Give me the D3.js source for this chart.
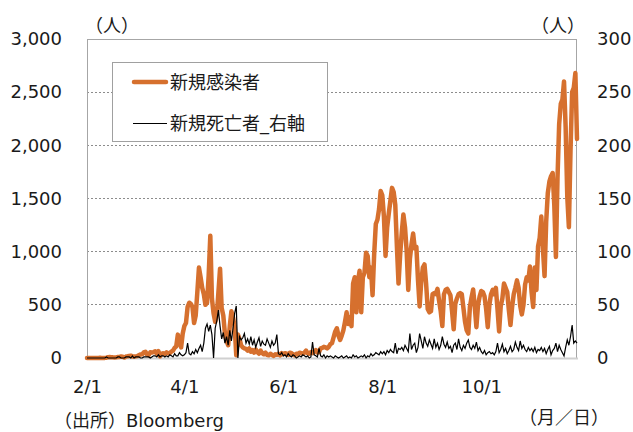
<!DOCTYPE html>
<html><head><meta charset="utf-8">
<script src="https://cdn.jsdelivr.net/npm/d3@7"></script>
<style>
html,body{margin:0;padding:0;background:#fff;}
svg text{font-family:'DejaVu Sans','Noto Sans CJK JP',sans-serif;fill:#1a1a1a;}
</style></head>
<body><svg id="c" width="633" height="432"></svg>
<script>
// ---- data (daily, from 2020-02-01) ----
const startDate = "2020-02-01";
const endDate = "2020-11-29";
const casesFeb = [0,0,1,0,0,1,0,0,2,0,1,1,3,8,9,6,6,4,6,9,10,14,12,4,14,16,19,22,15];
const casesMar = [14,15,18,28,33,35,53,59,33,26,54,52,55,62,41,64,15,41,44,39,53,42,45,60,70,95,110,220,150,100,230];
const casesApr = [300,330,480,520,510,480,330,400,620,850,760,660,600,500,520,780,1150,560,420,340,400,620,840,470,400,230,160,120,300,440];
const casesMay = [380,300,25,220,180,120,100,90,85,70,90,60,75,50,80,55,40,70,45,35,50,30,25,40,30,20,35,30,40,25,45];
const casesJun = [35,45,40,30,50,45,35,25,40,35,50,45,40,50,70,45,40,55,45,60,75,50,55,90,95,105,100,90,105,130];
const casesJul = [140,195,250,280,210,170,210,260,340,430,320,380,300,700,760,430,720,820,430,760,800,990,960,760,850,590,980,1260,1300,1400,1570];
const casesAug = [1530,1330,960,1230,1360,1480,1600,1560,1440,1050,700,970,1180,1350,1230,1010,640,930,1070,1170,1030,1045,735,485,715,850,880,700,460,430,440];
const casesSep = [600,610,600,650,540,440,300,600,640,650,620,590,440,270,510,560,600,610,600,470,340,260,230,480,570,645,480,290,500,580];
const casesOct = [630,620,580,460,290,500,600,640,600,660,460,250,490,560,700,660,620,450,310,480,600,660,730,660,490,410,500,690,760,730,860];
const casesNov = [620,480,850,640,1050,1130,1330,1030,770,1280,1550,1660,1710,1740,1440,950,1700,2200,2390,2430,2600,2170,1520,1230,1950,2500,2540,2680,2060];

const deathsFeb = [0,0,0,0,0,0,0,0,0,0,0,0,1,0,0,0,0,0,0,1,1,0,0,0,1,1,1,0,2];
const deathsMar = [0,1,1,1,0,0,1,1,1,1,0,1,2,2,1,3,1,2,2,1,2,1,3,2,1,4,2,2,5,3,2];
const deathsApr = [3,5,14,4,3,6,4,8,5,9,12,6,14,28,32,25,31,22,0,28,35,45,30,18,24,14,20,12,26,16];
const deathsMay = [28,42,49,0,20,17,19,23,14,18,13,20,12,17,10,15,19,11,16,13,12,18,14,10,16,12,14,22,4,3,5];
const deathsJun = [2,3,1,4,2,1,3,2,0,1,2,1,3,2,1,2,0,1,15,3,2,1,9,2,1,3,0,2,1,2];
const deathsJul = [1,0,2,1,0,1,2,0,1,2,0,1,0,3,1,2,0,1,2,1,3,0,2,1,4,2,3,5,4,3,6];
const deathsAug = [4,6,3,7,5,8,6,5,14,4,9,8,10,7,12,9,6,23,8,12,14,5,10,23,16,9,20,14,11,17,13];
const deathsSep = [9,18,10,14,8,12,20,13,10,15,9,11,5,12,14,8,18,10,7,12,9,14,17,10,8,12,9,15,7,10];
const deathsOct = [6,4,7,3,5,6,4,5,3,6,14,5,8,13,6,9,4,7,11,6,8,15,10,7,16,9,12,8,6,10,7];
const deathsNov = [9,6,10,5,8,7,10,6,9,4,8,11,3,7,9,14,6,12,8,5,2,10,17,12,20,31,14,16,14];

const leftTicks = [0,500,1000,1500,2000,2500,3000];
const rightTicks = [0,50,100,150,200,250,300];
const xTickDates = ["2020-02-01","2020-04-01","2020-06-01","2020-08-01","2020-10-01"];
const xTickLabels = ["2/1","4/1","6/1","8/1","10/1"];
const seriesNames = ["新規感染者","新規死亡者_右軸"];

// ---- build ----
const parse = d3.timeParse("%Y-%m-%d");
const cases = [].concat(casesFeb,casesMar,casesApr,casesMay,casesJun,casesJul,casesAug,casesSep,casesOct,casesNov);
const deaths = [].concat(deathsFeb,deathsMar,deathsApr,deathsMay,deathsJun,deathsJul,deathsAug,deathsSep,deathsOct,deathsNov);
const t0 = parse(startDate);
const dates = cases.map((_,i)=>d3.timeDay.offset(t0,i));

const L=87,R=577,T=39,B=358;
const svg = d3.select("#c");
const x = d3.scaleTime().domain([t0, parse(endDate)]).range([L,R]);
const yL = d3.scaleLinear().domain([0,3000]).range([B,T]);
const yR = d3.scaleLinear().domain([0,300]).range([B,T]);

// gridlines
svg.append("g").selectAll("line").data(leftTicks.filter(v=>v>0&&v<3000)).join("line")
  .attr("x1",L).attr("x2",R).attr("y1",d=>yL(d)).attr("y2",d=>yL(d))
  .attr("stroke","#8c8c8c").attr("stroke-width",1).attr("stroke-dasharray","2,2")
  .attr("shape-rendering","crispEdges");

// plot border
svg.append("rect").attr("x",L+0.5).attr("y",T+0.5).attr("width",R-L-1).attr("height",B-T)
  .attr("fill","none").attr("stroke","#a6a6a6").attr("stroke-width",1);
svg.append("line").attr("x1",L).attr("x2",R+1).attr("y1",B+0.5).attr("y2",B+0.5)
  .attr("stroke","#d0d0d0").attr("stroke-width",2);

// series
const lineC = d3.line().x((d,i)=>x(dates[i])).y(d=>yL(d));
const lineD = d3.line().x((d,i)=>x(dates[i])).y(d=>yR(d));
svg.append("path").datum(cases).attr("d",lineC).attr("fill","none")
  .attr("stroke","#d6702e").attr("stroke-width",4.5).attr("stroke-linejoin","round").attr("stroke-linecap","round");
svg.append("path").datum(deaths).attr("d",lineD).attr("fill","none")
  .attr("stroke","#000").attr("stroke-width",1.2).attr("stroke-linejoin","miter");

// axes
const ax = svg.append("g").attr("transform",`translate(${L},0)`)
  .call(d3.axisLeft(yL).tickValues(leftTicks).tickFormat(d3.format(",")).tickSize(0).tickPadding(25));
const ar = svg.append("g").attr("transform",`translate(${R},0)`)
  .call(d3.axisRight(yR).tickValues(rightTicks).tickFormat(d3.format("d")).tickSize(0).tickPadding(20));
const xb = svg.append("g").attr("transform",`translate(0,${B})`)
  .call(d3.axisBottom(x).tickValues(xTickDates.map(parse)).tickFormat((d,i)=>xTickLabels[i]).tickSize(0).tickPadding(22));
[ax,ar,xb].forEach(g=>{g.select(".domain").remove();
  g.selectAll("text").attr("font-size",18).style("font-family","'DejaVu Sans','Noto Sans CJK JP',sans-serif").attr("fill","#1a1a1a");});

// unit labels
svg.append("text").attr("x",85).attr("y",32).attr("font-size",18).text("（人）");
svg.append("text").attr("x",531).attr("y",32).attr("font-size",18).text("（人）");
svg.append("text").attr("x",519).attr("y",424).attr("font-size",18).text("（月／日）");
svg.append("text").attr("x",54).attr("y",427).attr("font-size",18).text("（出所）Bloomberg");

// legend
const lg = svg.append("g");
lg.append("rect").attr("x",112.5).attr("y",62.5).attr("width",215).attr("height",79)
  .attr("fill","#fff").attr("stroke","#a0a0a0").attr("stroke-width",1);
lg.append("line").attr("x1",134).attr("x2",166).attr("y1",82).attr("y2",82)
  .attr("stroke","#d6702e").attr("stroke-width",4.5).attr("stroke-linecap","round");
lg.append("line").attr("x1",133).attr("x2",167).attr("y1",123.5).attr("y2",123.5)
  .attr("stroke","#000").attr("stroke-width",1.2);
lg.append("text").attr("x",170).attr("y",89).attr("font-size",18).text(seriesNames[0]);
lg.append("text").attr("x",170).attr("y",130).attr("font-size",18).text(seriesNames[1]);
</script></body></html>
